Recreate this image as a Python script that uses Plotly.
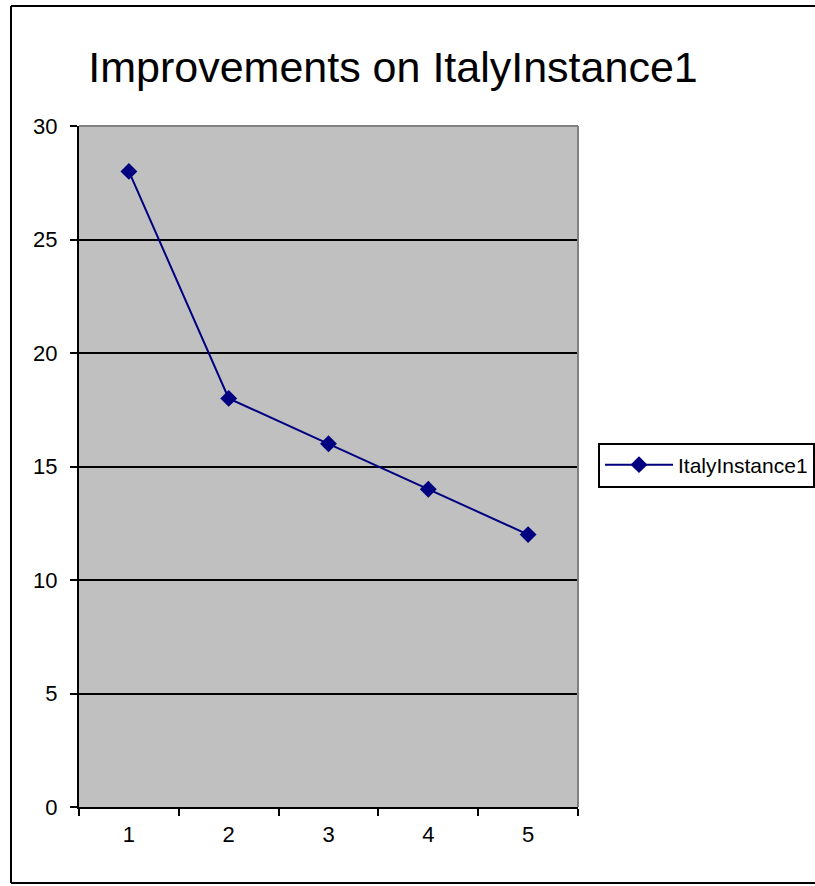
import plotly.graph_objects as go

categories = ["1", "2", "3", "4", "5"]
values = [28, 18, 16, 14, 12]
series_name = "ItalyInstance1"
title_text = "Improvements on ItalyInstance1"
y_ticks = [0, 5, 10, 15, 20, 25, 30]

FONT = "Liberation Sans, Arial, sans-serif"
W, H = 815, 886
L, R, T, B = 79, 578, 126, 807

fig = go.Figure()
fig.add_trace(go.Scatter(
    x=categories, y=values, name=series_name, mode="lines+markers",
    line=dict(color="#000080", width=2),
    marker=dict(symbol="diamond", size=13, color="#000080"),
))

def px_x(p):
    return (p - L) / (R - L)

def px_y(p):
    return (B - p) / (B - T)

border = dict(color="black", width=2)

fig.update_layout(
    width=W, height=H,
    margin=dict(l=L, r=W - R, t=T, b=H - B, pad=0, autoexpand=False),
    paper_bgcolor="white",
    plot_bgcolor="#C0C0C0",
    font=dict(family=FONT, color="black", size=22),
    title=dict(text=title_text, xref="container", x=393 / W, xanchor="center",
               y=1 - 67 / H, yanchor="middle",
               font=dict(family=FONT, size=43, color="black")),
    showlegend=True,
    legend=dict(x=px_x(598), xanchor="left", y=px_y(465), yanchor="middle",
                bordercolor="black", borderwidth=2, bgcolor="white",
                itemwidth=68,
                font=dict(family=FONT, size=21, color="black")),
    xaxis=dict(type="category", range=[-0.5, len(categories) - 0.5],
               tickson="boundaries", ticks="outside",
               ticklen=7, tickcolor="black", tickwidth=1.5,
               showgrid=False, showline=True, linecolor="black", linewidth=2,
               zeroline=False, ticklabelstandoff=7,
               tickfont=dict(family=FONT, size=22)),
    yaxis=dict(range=[0, 30], tickvals=y_ticks, ticks="outside",
               ticklen=7, tickcolor="black", tickwidth=1.5,
               showgrid=True, gridcolor="black", gridwidth=1.5,
               showline=True, linecolor="black", linewidth=2,
               zeroline=False, ticklabelstandoff=8,
               tickfont=dict(family=FONT, size=22)),
    shapes=[
        dict(type="line", xref="paper", yref="paper", x0=0, x1=1, y0=1, y1=1,
             line=dict(color="#808080", width=2)),
        dict(type="line", xref="paper", yref="paper", x0=1, x1=1, y0=0, y1=1,
             line=dict(color="#808080", width=2)),
        dict(type="line", xref="paper", yref="paper",
             x0=px_x(11), x1=px_x(11), y0=px_y(883), y1=px_y(6), line=border),
        dict(type="line", xref="paper", yref="paper",
             x0=px_x(11), x1=px_x(W), y0=px_y(6), y1=px_y(6), line=border),
        dict(type="line", xref="paper", yref="paper",
             x0=px_x(11), x1=px_x(W), y0=px_y(883), y1=px_y(883), line=border),
    ],
)

fig.write_html("out.html", config={"displayModeBar": False},
               post_script="document.body.style.margin='0';document.body.style.overflow='hidden';")
